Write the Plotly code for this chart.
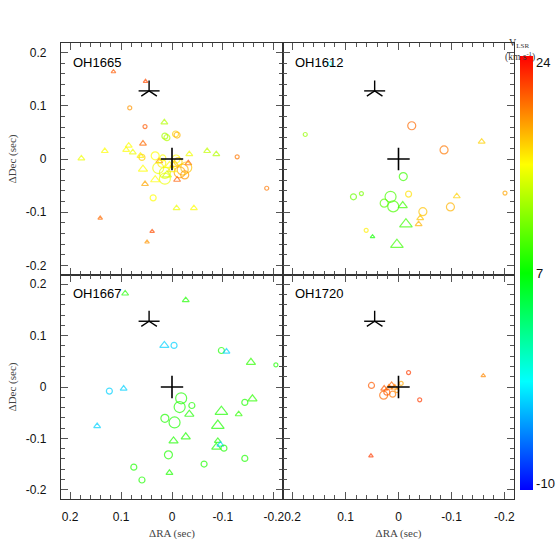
import plotly.graph_objects as go

# -----------------------------------------
#   maser spot data  (RA/Dec offset in sec, V_LSR in km/s)
#   flux: 1=faint ... 4=bright,  kind: c=circle, t=triangle
# -----------------------------------------
OH1665_RA = [0.115, 0.052, 0.083, 0.053, 0.015, 0.014, 0.010, -0.007, -0.010, 0.057,
             0.085, 0.090, 0.077, 0.132, 0.178, -0.069, -0.087, -0.128, -0.186, -0.034,
             0.059, 0.062, 0.057, 0.053, 0.037, -0.009, -0.043, 0.141, 0.039, 0.049,
             0.033, 0.025, -0.008, -0.032, 0.027, 0.014, -0.021, -0.028, -0.015, 0.014,
             0.033, -0.010, 0.005, 0.000, 0.020, -0.005, -0.025, 0.010, -0.012, 0.018]
OH1665_DEC = [0.164, 0.146, 0.096, 0.061, 0.069, 0.043, 0.040, 0.047, 0.045, 0.029,
              0.025, 0.017, 0.0125, 0.015, 0.001, 0.015, 0.009, 0.004, -0.055, 0.009,
              0.003, 0.006, -0.019, -0.047, -0.073, -0.0925, -0.0925, -0.111, -0.136, -0.156,
              0.006, -0.004, 0.000, -0.008, -0.017, -0.026, -0.020, -0.016, -0.025, -0.037,
              -0.039, -0.039, -0.012, -0.020, -0.008, -0.010, -0.030, -0.030, -0.005, 0.002]
OH1665_VEL = [21, 21.5, 19, 21, 13, 12.5, 13, 17, 18, 20.5,
              15.5, 15.5, 15, 15.5, 15, 13.5, 13, 20, 20, 15,
              17, 16, 15.5, 18.5, 15.5, 15, 15.5, 20.5, 21.5, 19,
              15.5, 19.5, 15.5, 21, 15, 14.5, 18, 17.5, 18.5, 15,
              15.5, 21, 15.5, 16, 16, 17.5, 19, 14, 17, 15.5]
OH1665_FLUX = [1, 1, 1, 1, 2, 2, 2, 2, 2, 2,
               2, 2, 2, 2, 2, 2, 2, 1, 1, 2,
               2, 2, 3, 2, 2, 2, 2, 1, 1, 1,
               3, 2, 3, 2, 4, 4, 4, 4, 4, 4,
               3, 2, 3, 3, 3, 3, 3, 3, 3, 2]
OH1665_KIND = ["t", "t", "c", "c", "t", "c", "c", "c", "c", "t",
               "t", "t", "t", "t", "t", "t", "t", "c", "c", "t",
               "c", "t", "t", "t", "c", "t", "t", "t", "t", "t",
               "c", "t", "c", "t", "c", "c", "c", "c", "c", "c",
               "t", "t", "t", "t", "c", "t", "c", "t", "c", "c"]

OH1612_RA = [0.129, 0.176, -0.025, -0.086, -0.157, -0.009, -0.019, -0.201, -0.110, 0.085,
             0.070, 0.015, 0.027, 0.010, -0.008, -0.098, -0.046, -0.041, -0.038, -0.014,
             0.061, 0.049, 0.003]
OH1612_DEC = [0.179, 0.046, 0.0625, 0.017, 0.0325, -0.033, -0.066, -0.064, -0.070, -0.071,
              -0.065, -0.071, -0.083, -0.089, -0.0875, -0.090, -0.099, -0.111, -0.1225, -0.1225,
              -0.134, -0.146, -0.161]
OH1612_VEL = [-2, 12, 20.5, 20, 17, 9, 16.5, 18.5, 17, 10.5,
              11, 9.5, 10, 9.5, 9, 18, 17.5, 17.5, 18, 9,
              16, 7.5, 9]
OH1612_FLUX = [1, 1, 3, 3, 2, 3, 2, 1, 2, 2,
               1, 4, 3, 4, 3, 3, 3, 2, 2, 4,
               1, 1, 4]
OH1612_KIND = ["c", "c", "c", "c", "t", "c", "c", "c", "t", "c",
               "c", "c", "c", "c", "t", "c", "c", "t", "t", "t",
               "c", "t", "t"]

OH1667_RA = [0.092, -0.027, 0.015, -0.004, -0.097, -0.107, -0.155, -0.204, 0.123, 0.095,
             0.147, -0.018, -0.015, -0.039, -0.034, 0.014, -0.005, -0.097, -0.131, -0.158,
             -0.143, -0.090, -0.003, -0.027, -0.090, -0.087, -0.095, -0.102, 0.007, -0.143,
             -0.063, 0.075, 0.005, 0.059]
OH1667_DEC = [0.182, 0.169, 0.081, 0.081, 0.071, 0.069, 0.048, 0.043, -0.008, -0.003,
              -0.076, -0.022, -0.039, -0.036, -0.053, -0.061, -0.069, -0.048, -0.053, -0.023,
              -0.030, -0.075, -0.105, -0.097, -0.105, -0.117, -0.112, -0.119, -0.132, -0.139,
              -0.150, -0.156, -0.167, -0.181]
OH1667_VEL = [8, 8, -3, -3, 8, -3, 8.5, 8, -3, -3,
              -3, 8, 8, 8, 8, 8, 8, 8, 8.5, 8.5,
              8, 8, 8, 8, 8, 8, -3, 8, 8, 8,
              8, 8, 8, 8]
OH1667_FLUX = [2, 2, 3, 2, 2, 2, 3, 1, 2, 2,
               2, 4, 4, 2, 3, 3, 4, 4, 2, 3,
               2, 4, 3, 3, 2, 3, 2, 2, 3, 2,
               2, 2, 2, 2]
OH1667_KIND = ["t", "t", "t", "c", "c", "t", "t", "c", "c", "t",
               "t", "c", "c", "c", "t", "c", "c", "t", "t", "t",
               "c", "t", "t", "t", "t", "t", "t", "c", "c", "c",
               "c", "c", "t", "c"]

OH1720_RA = [-0.019, -0.160, 0.051, 0.027, 0.018, 0.013, 0.007, 0.028, 0.011, 0.003,
             -0.005, 0.022, -0.040, 0.052]
OH1720_DEC = [0.028, 0.022, 0.003, -0.003, -0.001, 0.004, -0.001, -0.016, -0.014, -0.007,
              0.007, -0.010, -0.025, -0.134]
OH1720_VEL = [22, 19.5, 21, 21, 20, 20.5, 19.5, 20.5, 20, 19,
              18.5, 21, 22, 22]
OH1720_FLUX = [1, 1, 2, 2, 2, 2, 2, 3, 2, 1,
               1, 2, 1, 1]
OH1720_KIND = ["c", "t", "c", "t", "t", "t", "t", "c", "c", "c",
               "c", "c", "c", "t"]

# 参照位置（星印・十字）
STAR_RA, STAR_DEC = 0.045, 0.128
PEAK_RA, PEAK_DEC = 0.0, 0.0

VEL_MIN, VEL_MAX = -10, 24
CBAR_TICKVALS = [-9.5, 7, 23.5]
CBAR_TICKTEXT = ["-10", "7", "24"]
AXIS_TICKS = [0.2, 0.1, 0, -0.1, -0.2]
AXIS_TICKTEXT = ["0.2", "0.1", "0", "-0.1", "-0.2"]

PANELS = [
    ("OH1665", OH1665_RA, OH1665_DEC, OH1665_VEL, OH1665_FLUX, OH1665_KIND),
    ("OH1612", OH1612_RA, OH1612_DEC, OH1612_VEL, OH1612_FLUX, OH1612_KIND),
    ("OH1667", OH1667_RA, OH1667_DEC, OH1667_VEL, OH1667_FLUX, OH1667_KIND),
    ("OH1720", OH1720_RA, OH1720_DEC, OH1720_VEL, OH1720_FLUX, OH1720_KIND),
]

# ===============================
#  デザイン設定
# ===============================
W = H = 558
X_EDGES = [61, 283, 514]   # px
Y_EDGES = [43, 275, 499]   # px (top -> bottom)
SIZE_MAP = {1: 4, 2: 6, 3: 8, 4: 11}
SYMBOL_MAP = {"c": "circle-open", "t": "triangle-up-open"}
RAINBOW = [[0, "rgb(0,0,255)"], [0.25, "rgb(0,255,255)"], [0.5, "rgb(0,255,0)"],
           [0.75, "rgb(255,255,0)"], [1, "rgb(255,0,0)"]]
SANS = "Liberation Sans, Arial, sans-serif"
SERIF = "Liberation Serif, DejaVu Serif, serif"

fig = go.Figure()

for i, (name, ra, dec, vel, flux, kind) in enumerate(PANELS):
    ax = "" if i == 0 else str(i + 1)
    xa, ya = "x" + ax, "y" + ax

    fig.add_trace(go.Scatter(
        x=ra, y=dec, mode="markers", xaxis=xa, yaxis=ya, showlegend=False,
        marker=dict(
            color=vel, coloraxis="coloraxis",
            size=[SIZE_MAP[f] for f in flux],
            symbol=[SYMBOL_MAP[k] for k in kind],
            line=dict(width=1.2),
        ),
    ))

    # 星印（5本線） = y-up + line-ew
    for sym, sz in (("y-up-open", 13), ("line-ew-open", 15)):
        fig.add_trace(go.Scatter(
            x=[STAR_RA], y=[STAR_DEC], mode="markers", xaxis=xa, yaxis=ya,
            showlegend=False,
            marker=dict(symbol=sym, size=sz, color="black", line=dict(width=1.4, color="black")),
        ))
    # 十字
    fig.add_trace(go.Scatter(
        x=[PEAK_RA], y=[PEAK_DEC], mode="markers", xaxis=xa, yaxis=ya, showlegend=False,
        marker=dict(symbol="cross-thin-open", size=16, color="black",
                    line=dict(width=1.6, color="black")),
    ))

    row, col = divmod(i, 2)
    common = dict(
        tickmode="array", tickvals=AXIS_TICKS, ticktext=AXIS_TICKTEXT,
        ticks="inside", ticklen=7, tickwidth=1, tickcolor="#555",
        showline=True, linecolor="#333", linewidth=1.2, mirror="allticks",
        showgrid=False, zeroline=False, automargin=False,
        minor=dict(tickmode="linear", tick0=0, dtick=0.02, ticks="inside",
                   ticklen=4, tickwidth=1, tickcolor="#555"),
        tickfont=dict(family=SANS, size=12, color="#111"),
    )
    xaxis = dict(
        common, anchor=ya, range=[0.218, -0.218],
        domain=[X_EDGES[col] / W, X_EDGES[col + 1] / W],
        showticklabels=(row == 1), ticklabelstandoff=6,
    )
    yaxis = dict(
        common, anchor=xa, range=[-0.218, 0.218],
        domain=[1 - Y_EDGES[row + 1] / H, 1 - Y_EDGES[row] / H],
        showticklabels=(col == 0), ticklabelstandoff=11,
    )
    if row == 1:
        xaxis["title"] = dict(text="ΔRA (sec)", font=dict(family=SERIF, size=11, color="#444"),
                              standoff=6)
    if col == 0:
        yaxis["title"] = dict(text="ΔDec (sec)", font=dict(family=SERIF, size=11, color="#444"),
                              standoff=6)
    fig.update_layout({"xaxis" + ax: xaxis, "yaxis" + ax: yaxis})

    fig.add_annotation(
        text=name, xref=xa + " domain", yref=ya + " domain", x=0, y=1,
        xanchor="left", yanchor="middle", xshift=10, yshift=-19, showarrow=False,
        font=dict(family=SANS, size=13, color="black"),
    )

# カラーバーの単位ラベル
fig.add_annotation(text="V<sub>LSR</sub>", xref="paper", yref="paper",
                   x=531 / W, y=1 - 35 / H, showarrow=False,
                   font=dict(family=SERIF, size=10, color="#333"))
fig.add_annotation(text="(km s<sup>-1</sup>)", xref="paper", yref="paper",
                   x=537 / W, y=1 - 48 / H, showarrow=False,
                   font=dict(family=SERIF, size=9.5, color="#333"))

fig.update_layout(
    width=W, height=H,
    margin=dict(l=0, r=0, t=0, b=0, autoexpand=False),
    paper_bgcolor="white", plot_bgcolor="white",
    coloraxis=dict(
        colorscale=RAINBOW, cmin=VEL_MIN, cmax=VEL_MAX,
        colorbar=dict(
            x=520 / W, xanchor="left", y=1 - 490 / H, yanchor="bottom",
            len=434 / H, lenmode="fraction", thickness=13, outlinewidth=0,
            tickmode="array", tickvals=CBAR_TICKVALS, ticktext=CBAR_TICKTEXT,
            ticks="", ticklen=0,
            tickfont=dict(family=SANS, size=13, color="#111"),
            xpad=0, ypad=0,
        ),
    ),
)

# ページ既定の余白(8px)とスクロールバーを消して 558px ちょうどに収める
fig.write_html(
    "out.html",
    config={"displayModeBar": False},
    post_script="document.body.style.margin='0';document.body.style.overflow='hidden';",
)
